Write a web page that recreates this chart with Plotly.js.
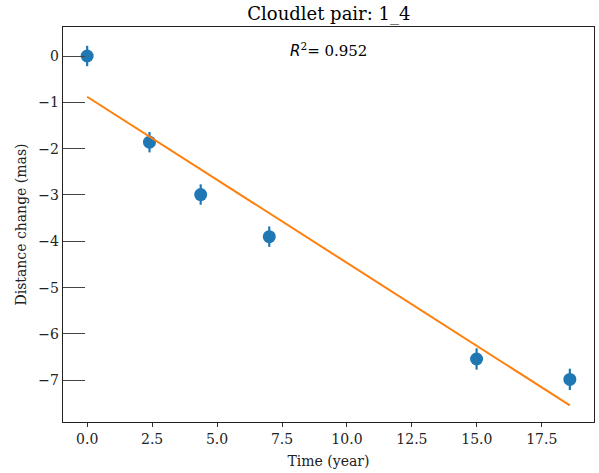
<!DOCTYPE html>
<html>
<head>
<meta charset="utf-8">
<script src="https://cdn.plot.ly/plotly-3.0.1.min.js"></script>
<style>html,body{margin:0;padding:0;background:#fff;}#chart{width:599px;height:473px;}</style>
</head>
<body>
<div id="chart"></div>
<script>
const timeYears = [0.0, 2.40, 4.37, 7.01, 14.99, 18.58];
const distChange = [0.0, -1.86, -2.99, -3.90, -6.54, -6.98];
const distErr = [0.22, 0.22, 0.22, 0.22, 0.23, 0.23];
const fitX = [0.0, 18.58];
const fitY = [-0.88, -7.54];
const rSquared = "0.952";
const titleText = "Cloudlet pair: 1_4";

const serif = "DejaVu Serif, serif";
const traces = [
  {
    x: timeYears, y: distChange, type: "scatter", mode: "markers",
    marker: {color: "#1f77b4", size: 13},
    error_y: {type: "data", array: distErr, visible: true, color: "#1f77b4", thickness: 2.2, width: 0},
    showlegend: false, hoverinfo: "skip"
  },
  {
    x: fitX, y: fitY, type: "scatter", mode: "lines",
    line: {color: "#ff7f0e", width: 2},
    showlegend: false, hoverinfo: "skip"
  }
];
const layout = {
  width: 599, height: 473,
  margin: {l: 63, r: 5, t: 27, b: 51},
  paper_bgcolor: "#fff", plot_bgcolor: "#fff",
  font: {family: serif, size: 14, color: "#222"},
  title: {text: titleText, font: {family: serif, size: 18, color: "#000"}, x: 0.549, xanchor: "center", y: 0.972, yanchor: "middle"},
  xaxis: {
    range: [-0.93, 19.51],
    tickvals: [0, 2.5, 5, 7.5, 10, 12.5, 15, 17.5],
    ticktext: ["0.0","2.5","5.0","7.5","10.0","12.5","15.0","17.5"],
    ticks: "outside", ticklen: 4, tickwidth: 1, tickcolor: "#333",
    showgrid: false, zeroline: false,
    showline: true, linecolor: "#222", linewidth: 1.2, mirror: true,
    title: {text: "Time (year)", font: {family: serif, size: 14, color: "#222"}, standoff: 10},
    tickfont: {family: serif, size: 14, color: "#222"}
  },
  yaxis: {
    range: [-7.90, 0.626],
    tickvals: [0, -1, -2, -3, -4, -5, -6, -7],
    ticks: "inside", ticklen: 22, tickwidth: 1, tickcolor: "#444",
    showgrid: false, zeroline: false,
    showline: true, linecolor: "#222", linewidth: 1.2, mirror: true,
    title: {text: "Distance change (mas)", font: {family: serif, size: 14, color: "#222"}, standoff: 8},
    tickfont: {family: serif, size: 14, color: "#222"}
  },
  annotations: [{
    x: 9.3, y: 0.13, xref: "x", yref: "y",
    text: "<i><span style='font-family:DejaVu Sans'>R</span></i><sup>2</sup>= " + rSquared,
    showarrow: false, font: {family: serif, size: 15, color: "#000"},
    xanchor: "center", yanchor: "middle"
  }]
};
Plotly.newPlot("chart", traces, layout, {displayModeBar: false, staticPlot: true});
</script>
</body>
</html>
